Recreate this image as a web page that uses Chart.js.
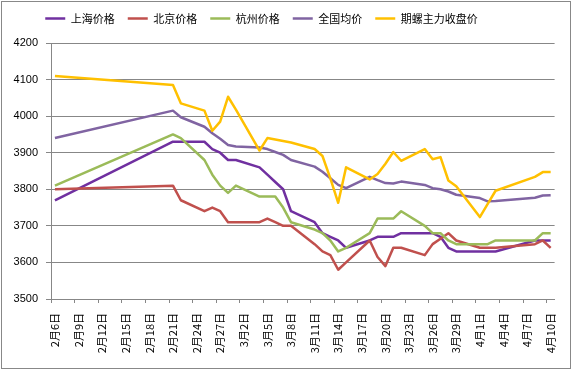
<!DOCTYPE html>
<html>
<head>
<meta charset="utf-8">
<script src="https://cdn.jsdelivr.net/npm/chart.js@4"></script>
<style>
  html, body { margin: 0; padding: 0; background: #fff; }
  #wrap { width: 574px; height: 373px; }
</style>
</head>
<body>
<div id="wrap"><canvas id="myChart" width="574" height="373"></canvas></div>
<script>
// trading days that have prices
const tradeDates = [
  '2月6日', '2月21日', '2月22日', '2月25日', '2月26日', '2月27日', '2月28日', '3月1日',
  '3月4日', '3月5日', '3月6日', '3月7日', '3月8日', '3月11日', '3月12日', '3月13日',
  '3月14日', '3月15日', '3月18日', '3月19日', '3月20日', '3月21日', '3月22日', '3月25日',
  '3月26日', '3月27日', '3月28日', '3月29日', '4月1日', '4月2日', '4月3日', '4月8日',
  '4月9日', '4月10日'
];

const shanghai = [
  3770, 3930, 3930, 3930, 3910, 3900, 3880, 3880,
  3860, 3840, 3820, 3800, 3740, 3710, 3680, 3670,
  3660, 3640, 3660, 3670, 3670, 3670, 3680, 3680,
  3680, 3670, 3640, 3630, 3630, 3630, 3630, 3660,
  3660, 3660
];
const beijing = [
  3800, 3810, 3770, 3740, 3750, 3740, 3710, 3710,
  3710, 3720, 3710, 3700, 3700, 3650, 3630, 3620,
  3580, 3600, 3660, 3615, 3590, 3640, 3640, 3620,
  3650, 3665, 3680, 3660, 3640, 3640, 3640, 3650,
  3660, 3640
];
const hangzhou = [
  3810, 3950, 3940, 3880, 3840, 3810, 3790, 3810,
  3780, 3780, 3780, 3750, 3710, 3690, 3680, 3660,
  3630, 3640, 3680, 3720, 3720, 3720, 3740, 3700,
  3680, 3680, 3660, 3650, 3650, 3650, 3660, 3660,
  3680, 3680
];
const national = [
  3940, 4015, 3997, 3971, 3953, 3938, 3921, 3917,
  3914, 3910, 3902, 3894, 3880, 3862, 3848, 3830,
  3812, 3803, 3834, 3825, 3817, 3816, 3821, 3812,
  3803, 3800, 3794, 3785, 3776, 3767, 3768, 3777,
  3783, 3784
];
const futures = [
  4110, 4085, 4035, 4015, 3960, 3985, 4053, 4018,
  3906, 3940, 3936, 3932, 3928, 3910, 3891, 3830,
  3763, 3860, 3827, 3842, 3870, 3902, 3878, 3910,
  3882, 3888, 3824, 3808, 3724, 3760, 3796, 3834,
  3847, 3847
];

const seriesNames = ['上海价格', '北京价格', '杭州价格', '全国均价', '期螺主力收盘价'];
const seriesColors = ['#7030A0', '#C0504D', '#9BBB59', '#8064A2', '#FFC000'];
const seriesValues = [shanghai, beijing, hangzhou, national, futures];

// every calendar day from 2/6 to 4/10 on the category axis
const monthSpans = [[2, 6, 28], [3, 1, 31], [4, 1, 10]];
const dayLabels = [];
monthSpans.forEach(([m, from, to]) => {
  for (let d = from; d <= to; d++) dayLabels.push(m + '月' + d + '日');
});

const yTicks = [3500, 3600, 3700, 3800, 3900, 4000, 4100, 4200];
const gridGray = '#878787';

Chart.defaults.font.family = '"Liberation Sans", "Noto Sans CJK SC", sans-serif';
Chart.defaults.font.size = 11;
Chart.defaults.color = '#000';

const frame = {
  id: 'frame',
  beforeDraw(chart) {
    const c = chart.ctx;
    c.save();
    c.fillStyle = '#fff';
    c.fillRect(0, 0, chart.width, chart.height);
    c.restore();
  },
  afterDraw(chart) {
    const c = chart.ctx;
    c.save();
    c.strokeStyle = '#888';
    c.lineWidth = 1;
    c.strokeRect(1.5, 1.5, 569, 367);
    c.restore();
  }
};

// legend height fixed, and legend nudged left like the original
const legendSpace = {
  id: 'legendSpace',
  beforeInit(chart) {
    const fit = chart.legend.fit;
    chart.legend.fit = function () {
      fit.call(this);
      this.height = 43;
    };
  },
  afterLayout(chart) {
    chart.legend.left -= 17;
    chart.legend.right -= 17;
  }
};

const chartData = {
  labels: dayLabels,
  datasets: seriesNames.map((name, s) => ({
    label: name,
    data: tradeDates.map((d, k) => ({ x: d, y: seriesValues[s][k] })),
    borderColor: seriesColors[s],
    backgroundColor: seriesColors[s],
    borderWidth: 2.5,
    borderJoinStyle: 'round',
    pointRadius: 0,
    tension: 0,
    order: seriesNames.length - s
  }))
};

const chartConfig = {
  type: 'line',
  data: chartData,
  options: {
    responsive: false,
    animation: false,
    layout: { padding: { left: 0, right: 17, top: 0, bottom: 4 } },
    plugins: {
      tooltip: { enabled: false },
      legend: {
        position: 'top',
        labels: {
          usePointStyle: true,
          pointStyle: 'line',
          pointStyleWidth: 20,
          padding: 13,
          font: { size: 11, family: '"Noto Sans CJK SC", sans-serif' },
          sort: (a, b) => a.datasetIndex - b.datasetIndex
        }
      }
    },
    scales: {
      x: {
        type: 'category',
        offset: true,
        afterFit: (scale) => { scale.height = 70; },
        grid: {
          offset: true,
          drawOnChartArea: false,
          drawTicks: true,
          tickLength: 4,
          color: (ctx) => (ctx.index % 3 === 0 ? gridGray : 'rgba(0,0,0,0)')
        },
        border: { color: gridGray },
        ticks: {
          autoSkip: false,
          minRotation: 90,
          maxRotation: 90,
          padding: 10,
          font: { size: 11, family: '"Noto Sans CJK SC", sans-serif' },
          callback: function (val, i) { return i % 3 === 0 ? this.getLabelForValue(val) : ''; }
        }
      },
      y: {
        min: yTicks[0],
        max: yTicks[yTicks.length - 1],
        afterFit: (scale) => { scale.width = 51; },
        afterBuildTicks: (scale) => { scale.ticks = yTicks.map(v => ({ value: v })); },
        grid: { color: gridGray, tickLength: 5 },
        border: { color: gridGray },
        ticks: { padding: 8, font: { size: 11 }, callback: (v) => String(v) }
      }
    }
  },
  plugins: [frame, legendSpace]
};

const myChart = new Chart(document.getElementById('myChart').getContext('2d'), chartConfig);
</script>
</body>
</html>
